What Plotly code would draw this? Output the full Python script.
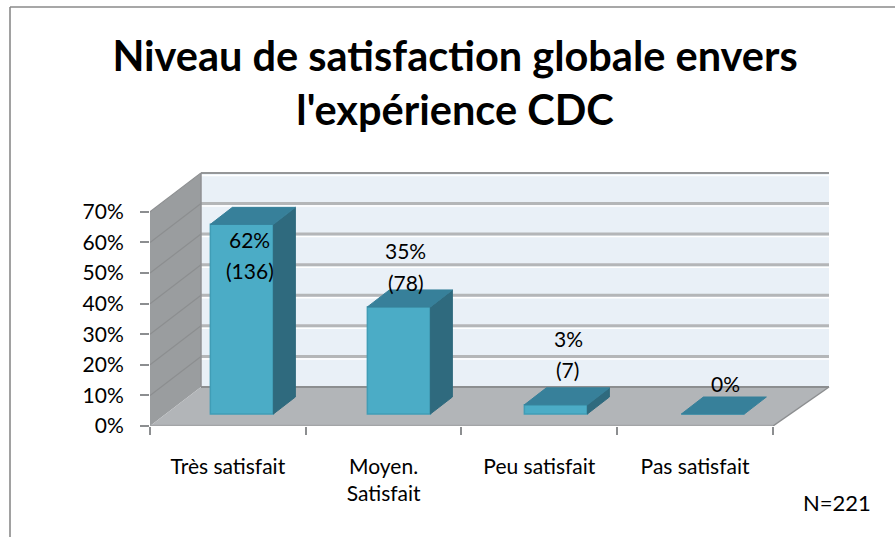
import plotly.graph_objects as go

# ---- data ----
categories = ["Très satisfait", "Moyen.<br>Satisfait", "Peu satisfait", "Pas satisfait"]
percent_values = [62, 35, 3, 0]
count_labels = ["(136)", "(78)", "(7)", ""]
percent_labels = ["62%", "35%", "3%", "0%"]
y_ticks = [0, 10, 20, 30, 40, 50, 60, 70]
y_tick_labels = ["0%", "10%", "20%", "30%", "40%", "50%", "60%", "70%"]
title_text = "<b>Niveau de satisfaction globale envers<br>l'expérience CDC</b>"
note_text = "N=221"

# ---- style / geometry ----
FONT = "Lato"
W, H = 895, 537
PX_L, PX_R, PX_B = 150, 843, 426     # plot box in pixels
PX_T = 166
X0, X1 = -0.5, 3.95
Y0, Y1 = 0, 85
ux = (PX_R - PX_L) / (X1 - X0)
uy = (PX_B - PX_T) / (Y1 - Y0)
px_x = lambda n: n / ux
px_y = lambda n: n / uy

wall_dx, wall_dy = px_x(51), px_y(39)
wall_right = X1 - px_x(14)
floor_front_right = 3.5
bar_width = px_x(63)
bar_shift = px_x(14)
bar_pitch = px_x(157)
bar_base = px_y(12)
depth_dx, depth_dy = px_x(22), px_y(17)

C_FRONT, C_TOP, C_SIDE = "#4BACC6", "#37809A", "#2F6A7E"
C_EDGE = "#409DB6"
C_BACK, C_LEFT, C_FLOOR = "#E9F0F7", "#9A9D9F", "#B2B5B8"
C_GRID, C_GRID_L, C_AXIS = "#B4B6B8", "#8C8E90", "#A3A5A7"


def poly(points):
    return "M " + " L ".join(f"{x},{y}" for x, y in points) + " Z"


xL = X0
shapes = [
    dict(type="path", layer="below", xref="x", yref="y", line_width=0, fillcolor=C_BACK,
         path=poly([(xL + wall_dx, wall_dy), (wall_right, wall_dy), (wall_right, 70 + wall_dy), (xL + wall_dx, 70 + wall_dy)])),
    dict(type="path", layer="below", xref="x", yref="y", line_width=0, fillcolor=C_LEFT,
         path=poly([(xL, 0), (xL + wall_dx, wall_dy), (xL + wall_dx, 70 + wall_dy), (xL, 70)])),
    dict(type="path", layer="below", xref="x", yref="y", line_width=0, fillcolor=C_FLOOR,
         path=poly([(xL, 0), (floor_front_right, 0), (wall_right, wall_dy), (xL + wall_dx, wall_dy)])),
]
for v in y_ticks[1:]:
    top = v == 70
    yb = v + wall_dy
    shapes.append(dict(type="line", layer="below", xref="x", yref="y",
                       x0=xL + wall_dx, x1=wall_right, y0=yb - px_y(2.5), y1=yb - px_y(2.5),
                       line=dict(color="#FFFFFF", width=1.5)))
    shapes.append(dict(type="line", layer="below", xref="x", yref="y",
                       x0=xL + wall_dx, x1=wall_right, y0=yb, y1=yb,
                       line=dict(color="#959799" if top else C_GRID, width=2 if top else 3)))
    shapes.append(dict(type="line", layer="below", xref="x", yref="y",
                       x0=xL, x1=xL + wall_dx, y0=v, y1=yb,
                       line=dict(color=C_GRID_L, width=1.2)))
shapes.append(dict(type="line", layer="below", xref="x", yref="y",
                   x0=xL + wall_dx, x1=xL + wall_dx, y0=wall_dy, y1=70 + wall_dy,
                   line=dict(color="#8F9193", width=1.5)))
shapes.append(dict(type="line", layer="below", xref="x", yref="y",
                   x0=xL + wall_dx, x1=wall_right, y0=wall_dy, y1=wall_dy,
                   line=dict(color=C_GRID_L, width=2)))
shapes.append(dict(type="line", layer="below", xref="x", yref="y",
                   x0=floor_front_right, x1=wall_right, y0=0, y1=wall_dy,
                   line=dict(color=C_GRID_L, width=1.5)))
# chart frame
fx = lambda p: (p - PX_L) / (PX_R - PX_L)
fy = lambda p: (PX_B - p) / (PX_B - PX_T)
frame = dict(color="#8A8A8A", width=1.6)
shapes.append(dict(type="line", xref="paper", yref="paper", x0=fx(10), x1=fx(10), y0=fy(7), y1=fy(537), line=frame))
shapes.append(dict(type="line", xref="paper", yref="paper", x0=fx(10), x1=fx(895), y0=fy(7), y1=fy(7), line=frame))

fig = go.Figure()
positions = list(range(len(categories)))
centers = [bar_shift + i * bar_pitch for i in positions]

fig.add_trace(go.Bar(x=centers, y=percent_values, base=[bar_base] * 4, width=bar_width,
                     marker=dict(color=C_FRONT, line=dict(color=C_EDGE, width=1.5)),
                     hoverinfo="skip", showlegend=False))

for c, v in zip(centers, percent_values):
    x0, x1 = c - bar_width / 2, c + bar_width / 2
    b, t = bar_base, bar_base + v
    if v > 0:
        fig.add_trace(go.Scatter(
            x=[x1, x1 + depth_dx, x1 + depth_dx, x1, x1], y=[b, b + depth_dy, t + depth_dy, t, b],
            mode="lines", fill="toself", fillcolor=C_SIDE, line=dict(color=C_SIDE, width=1),
            hoverinfo="skip", showlegend=False, cliponaxis=False))
    fig.add_trace(go.Scatter(
        x=[x0, x1, x1 + depth_dx, x0 + depth_dx, x0], y=[t, t, t + depth_dy, t + depth_dy, t],
        mode="lines", fill="toself", fillcolor=C_TOP, line=dict(color=C_TOP, width=1),
        hoverinfo="skip", showlegend=False, cliponaxis=False))

# front floor edge
fig.add_trace(go.Scatter(x=[xL, floor_front_right], y=[0, 0], mode="lines",
                         line=dict(color=C_AXIS, width=2.5), hoverinfo="skip",
                         showlegend=False, cliponaxis=False))

# data labels: manually placed in the reference, offsets in pixels from the bar's front top
pct_shift = [(8, 15), (7, -56), (13, -66), (13, -31)]
cnt_shift = [(8, 46), (7, -24), (12, -35), None]
annotations = []
lab_font = dict(family=FONT, size=21, color="#000000")
for c, v, pt, ct, ps, cs in zip(centers, percent_values, percent_labels, count_labels, pct_shift, cnt_shift):
    y = bar_base + v
    annotations.append(dict(x=c, y=y, xref="x", yref="y", text=pt, showarrow=False, font=lab_font,
                            xshift=ps[0], yshift=-ps[1], xanchor="center", yanchor="middle"))
    if cs:
        annotations.append(dict(x=c, y=y, xref="x", yref="y", text=ct, showarrow=False, font=lab_font,
                                xshift=cs[0], yshift=-cs[1], xanchor="center", yanchor="middle"))
annotations.append(dict(x=fx(837), y=fy(502), xref="paper", yref="paper", text=note_text, showarrow=False,
                        font=dict(family=FONT, size=22, color="#000000"), xanchor="center", yanchor="middle"))

fig.update_layout(
    width=W, height=H, autosize=False,
    margin=dict(l=PX_L, r=W - PX_R, t=PX_T, b=H - PX_B, pad=0),
    paper_bgcolor="white", plot_bgcolor="white",
    font=dict(family=FONT, color="#000000"),
    title=dict(text=title_text, x=455 / W, xanchor="center", y=1 - 71 / H, yanchor="middle",
               font=dict(family=FONT, size=41.5, color="#000000")),
    shapes=shapes, annotations=annotations, showlegend=False,
    xaxis=dict(range=[X0, X1], tickmode="array", tickvals=positions, ticktext=categories,
               ticks="", showgrid=False, zeroline=False, showline=False,
               tickfont=dict(family=FONT, size=21), ticklabelstandoff=26,
               minor=dict(tickmode="array", tickvals=[-0.5, 0.5, 1.5, 2.5, 3.5], ticks="outside",
                          ticklen=8, tickwidth=1.5, tickcolor="#8C8E90", showgrid=False)),
    yaxis=dict(range=[Y0, Y1], tickmode="array", tickvals=y_ticks, ticktext=y_tick_labels,
               ticks="outside", ticklen=9, tickwidth=1.5, tickcolor="#8C8E90", showgrid=False,
               zeroline=False, showline=False, tickfont=dict(family=FONT, size=21),
               ticklabelstandoff=12),
)
fig.write_html("out.html", config=dict(displayModeBar=False), post_script="document.body.style.margin='0';")
